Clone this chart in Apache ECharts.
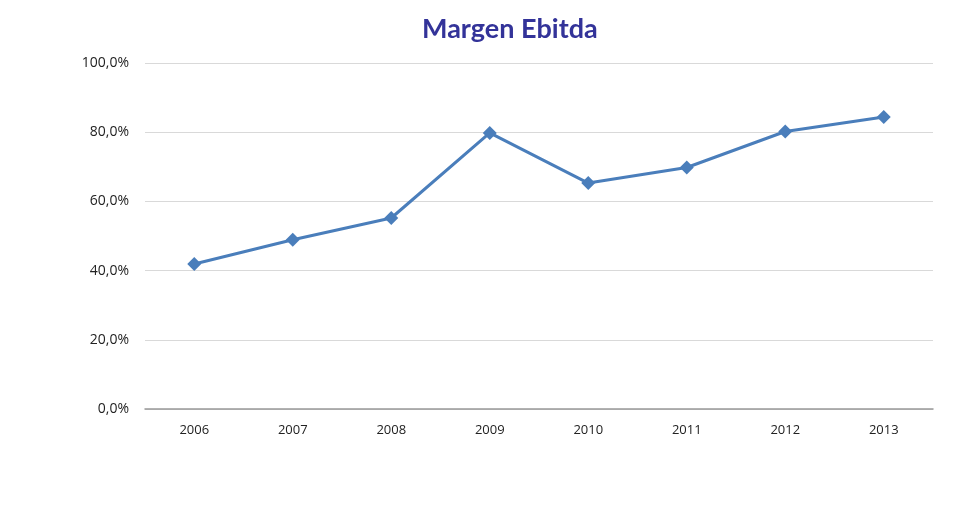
<!DOCTYPE html>
<html lang="es">

<head>
    <meta charset="UTF-8">
    <title>Margen Ebitda</title>
    <style>
        html, body { margin: 0; padding: 0; background: #fff; }
        #main { width: 979px; height: 525px; }
    </style>
</head>

<body>
    <div id="main"></div>
    <script src="https://cdn.jsdelivr.net/npm/echarts@6/dist/echarts.min.js"></script>
    <script>
        var years = ['2006', '2007', '2008', '2009', '2010', '2011', '2012', '2013'];
        var margen = [41.9, 48.9, 55.2, 79.8, 65.3, 69.8, 80.2, 84.4];
        var yTicks = [0, 20, 40, 60, 80, 100];

        var myChart = echarts.init(document.getElementById('main'));

        var option = {
            backgroundColor: '#ffffff',
            title: {
                text: 'Margen Ebitda',
                left: 417,
                top: 11,
                textStyle: {
                    fontFamily: 'Lato',
                    fontWeight: 'bold',
                    fontSize: 27,
                    color: '#333399'
                }
            },
            grid: {
                left: 145,
                right: 46,
                top: 63,
                bottom: 116
            },
            xAxis: {
                type: 'category',
                data: years,
                boundaryGap: true,
                axisLine: { lineStyle: { color: '#999999', width: 1.5 } },
                axisTick: { show: false },
                axisLabel: {
                    margin: 15,
                    fontFamily: 'Open Sans',
                    fontSize: 13,
                    color: '#222'
                }
            },
            yAxis: {
                type: 'value',
                min: yTicks[0],
                max: yTicks[yTicks.length - 1],
                interval: 20,
                axisLine: { show: false },
                axisTick: { show: false },
                splitLine: { lineStyle: { color: '#d9d9d9', width: 1 } },
                axisLabel: {
                    margin: 16,
                    fontFamily: 'Open Sans',
                    fontSize: 14,
                    color: '#222',
                    formatter: function (v) {
                        return v.toFixed(1).replace('.', ',') + '%';
                    }
                }
            },
            series: [{
                type: 'line',
                data: margen,
                symbol: 'diamond',
                symbolSize: 14,
                lineStyle: { color: '#4a7ebb', width: 3 },
                itemStyle: { color: '#4a7ebb' },
                animation: false
            }]
        };
        myChart.setOption(option);
    </script>
</body>

</html>
